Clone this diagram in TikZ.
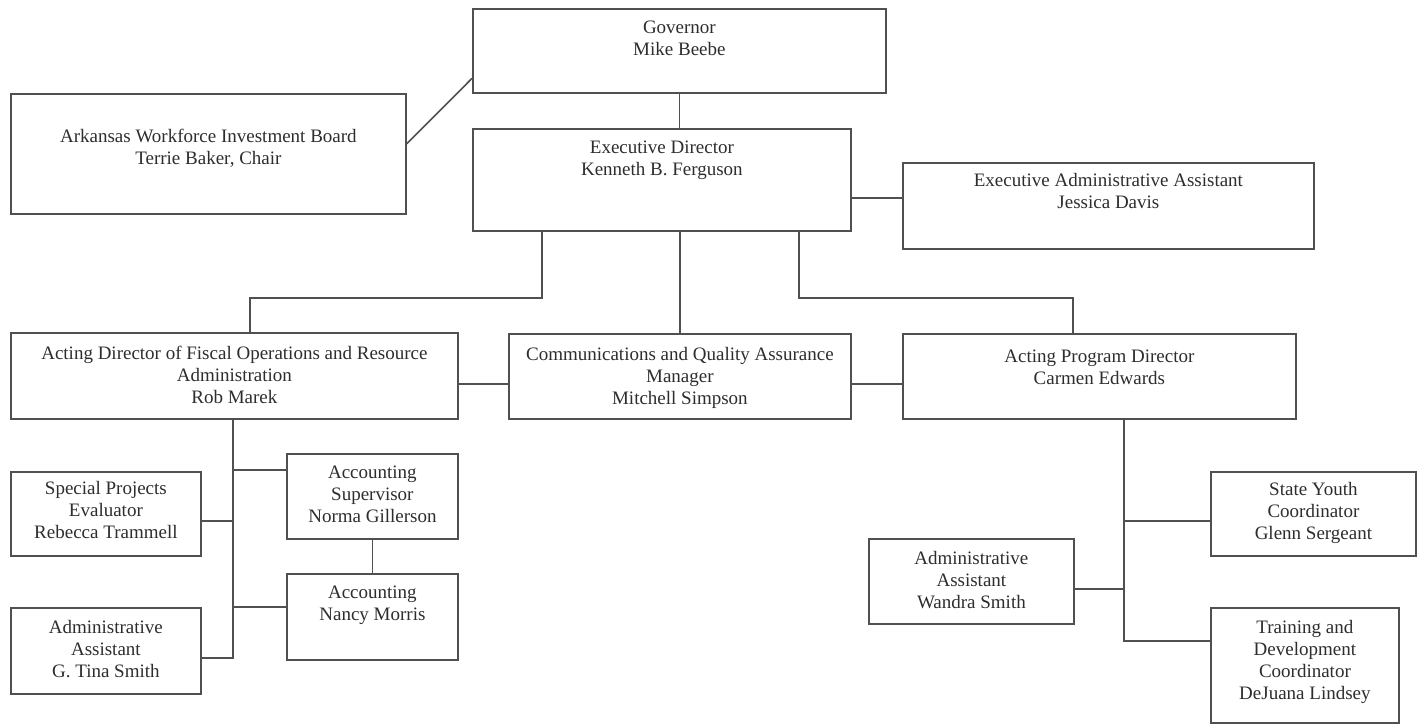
\documentclass[tikz,border=0pt]{standalone}
\usepackage{fontspec}
\setmainfont{Liberation Serif}
\usetikzlibrary{calc}
\definecolor{linec}{RGB}{80,80,80}
\definecolor{textc}{RGB}{45,45,45}
\begin{document}
\begin{tikzpicture}[x=1pt,y=-1pt,
  box/.style={draw=linec, line width=1.8pt, align=center, inner sep=0pt,
    anchor=north west, text=textc,
    font=\fontsize{19}{22}\selectfont},
  conn/.style={draw=linec, line width=1.6pt}]
\useasboundingbox (0,0) rectangle (1421,725);
% boxes (text height = distance from top to last baseline)
\node[box, minimum width=413pt, text height=47pt, text depth=37pt] (gov) at (472,8) {Governor\\Mike Beebe};
\node[box, minimum width=395pt, text height=71pt, text depth=49pt] (awib) at (10,93) {Arkansas Workforce Investment Board\\Terrie Baker, Chair};
\node[box, minimum width=378pt, text height=47pt, text depth=55pt] (exec) at (472,128) {Executive Director\\Kenneth B. Ferguson};
\node[box, minimum width=411pt, text height=46pt, text depth=40pt] (eaa) at (902,162) {Executive Administrative Assistant\\Jessica Davis};
\node[box, minimum width=447pt, text height=71pt, text depth=15pt] (fiscal) at (10,332) {Acting Director of Fiscal Operations and Resource\\Administration\\Rob Marek};
\node[box, minimum width=342pt, text height=71pt, text depth=14pt] (comm) at (508,333) {Communications and Quality Assurance\\Manager\\Mitchell Simpson};
\node[box, minimum width=393pt, text height=51pt, text depth=34pt] (prog) at (902,333) {Acting Program Director\\Carmen Edwards};
\node[box, minimum width=190pt, text height=67pt, text depth=17pt] (special) at (10,471) {Special Projects\\Evaluator\\Rebecca Trammell};
\node[box, minimum width=171pt, text height=69pt, text depth=16pt] (sup) at (286,453) {Accounting\\Supervisor\\Norma Gillerson};
\node[box, minimum width=171pt, text height=47pt, text depth=39pt] (nancy) at (286,573) {Accounting\\Nancy Morris};
\node[box, minimum width=190pt, text height=70pt, text depth=16pt] (tina) at (10,607) {Administrative\\Assistant\\G. Tina Smith};
\node[box, minimum width=205pt, text height=70pt, text depth=15pt] (wandra) at (868,538) {Administrative\\Assistant\\Wandra Smith};
\node[box, minimum width=205pt, text height=68pt, text depth=16pt] (youth) at (1210,471) {State Youth\\Coordinator\\Glenn Sergeant};
\node[box, minimum width=188pt, text height=92pt, text depth=23pt] (training) at (1210,607) {Training and\\Development\\Coordinator\\DeJuana Lindsey};
% junction coordinates
\coordinate (bl) at (542,298);
\coordinate (bl2) at (250,298);
\coordinate (br) at (799,298);
\coordinate (br2) at (1073,298);
\coordinate (hm) at (480,384);
% connectors
\draw[conn] (gov.south) -- (gov.south |- exec.north);
\draw[conn] ($(awib.north east)!0.417!(awib.south east)$) -- ($(gov.north west)!0.82!(gov.south west)$);
\coordinate (c1) at ($(eaa.north west)!0.41!(eaa.south west)$);
\draw[conn] (c1 -| exec.east) -- (c1);
\draw[conn] (exec.south -| bl) -- (bl) -- (bl2) -- (fiscal.north -| bl2);
\draw[conn] (exec.south -| comm.north) -- (comm.north);
\draw[conn] (exec.south -| br) -- (br) -- (br2) -- (prog.north -| br2);
\draw[conn] (fiscal.east |- hm) -- (comm.west |- hm);
\draw[conn] (comm.east |- hm) -- (prog.west |- hm);
% fiscal subtree
\coordinate (fb) at (233,658);
\draw[conn] (fiscal.south -| fb) -- (fb) -- (tina.east |- fb);
\draw[conn] (233,470) coordinate (f1) -- (sup.west |- f1);
\draw[conn] (233,521) coordinate (f2) -- (special.east |- f2);
\draw[conn] (233,607) coordinate (f3) -- (nancy.west |- f3);
\draw[conn] (sup.south) -- (nancy.north);
% program subtree
\coordinate (pb) at (1124,641);
\draw[conn] (prog.south -| pb) -- (pb) -- (training.west |- pb);
\draw[conn] (1124,521) coordinate (p1) -- (youth.west |- p1);
\draw[conn] (1124,589) coordinate (p2) -- (wandra.east |- p2);
\end{tikzpicture}
\end{document}
